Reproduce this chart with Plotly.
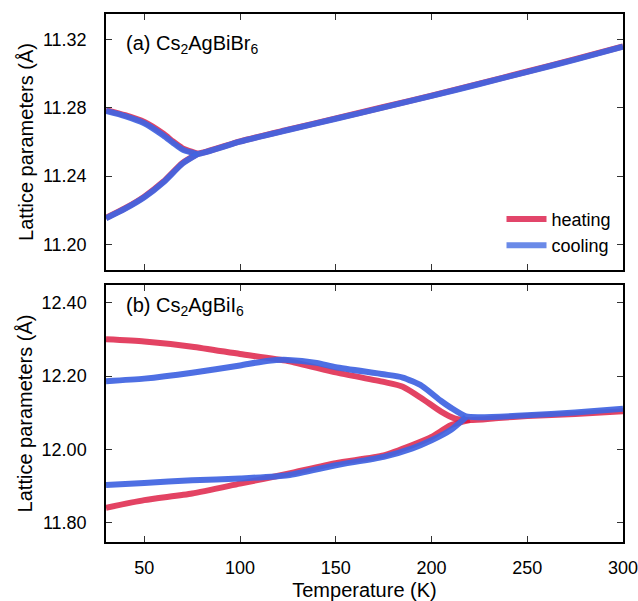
import plotly.graph_objects as go

# ---------------- data ----------------
# (a) Cs2AgBiBr6
Ta_hi = [30, 40, 50, 60, 65, 70, 75, 78, 100, 125, 150, 175, 200, 225, 250, 275, 300]
a_heat_hi = [11.2787, 11.2757, 11.2717, 11.2648, 11.2603, 11.2563, 11.2542, 11.2532, 11.2604, 11.2672, 11.2738, 11.2805, 11.2872, 11.2942, 11.3013, 11.3085, 11.3160]
a_cool_hi = [11.2782, 11.2752, 11.2710, 11.2638, 11.2595, 11.2555, 11.2537, 11.2530, 11.2602, 11.2670, 11.2736, 11.2803, 11.2870, 11.2940, 11.3011, 11.3083, 11.3158]
Ta_lo = [30, 40, 50, 60, 70, 78]
a_heat_lo = [11.2155, 11.2212, 11.2280, 11.2368, 11.2478, 11.2532]
a_cool_lo = [11.2153, 11.2209, 11.2276, 11.2364, 11.2474, 11.2530]

# (b) Cs2AgBiI6
Tb_heat_hi = [30, 50, 75, 100, 125, 150, 175, 185, 195, 205, 212, 220, 235, 250, 275, 300]
b_heat_hi = [12.300, 12.294, 12.280, 12.260, 12.241, 12.210, 12.184, 12.171, 12.139, 12.103, 12.085, 12.080, 12.086, 12.091, 12.097, 12.104]
Tb_heat_lo = [30, 50, 75, 100, 125, 150, 175, 190, 200, 210, 220]
b_heat_lo = [11.841, 11.862, 11.880, 11.907, 11.934, 11.963, 11.984, 12.012, 12.034, 12.066, 12.080]

Tb_cool_hi = [30, 50, 75, 100, 115, 125, 140, 150, 175, 185, 195, 205, 210, 218, 225, 250, 275, 300]
b_cool_hi = [12.186, 12.193, 12.209, 12.229, 12.242, 12.244, 12.236, 12.224, 12.205, 12.196, 12.173, 12.132, 12.114, 12.090, 12.088, 12.093, 12.101, 12.111]
Tb_cool_lo = [30, 50, 75, 100, 125, 150, 175, 190, 200, 210, 218]
b_cool_lo = [11.903, 11.909, 11.916, 11.921, 11.930, 11.957, 11.980, 12.003, 12.025, 12.053, 12.088]

x_ticks = [50, 100, 150, 200, 250, 300]
ya_ticks = [11.20, 11.24, 11.28, 11.32]
yb_ticks = [11.80, 12.00, 12.20, 12.40]

labels = ["heating", "cooling"]
panel_labels = ["(a) Cs<sub>2</sub>AgBiBr<sub>6</sub>", "(b) Cs<sub>2</sub>AgBiI<sub>6</sub>"]

# ---------------- style ----------------
HEAT = "rgba(220,20,60,0.8)"
COOL = "rgba(65,100,225,0.93)"
HEAT_LEG = "#e2456a"
COOL_LEG = "#6a8ae8"
FONT = "Liberation Sans, Arial, Helvetica, sans-serif"
LW = 6


def join(x1, y1, x2, y2):
    return list(x1) + [None] + list(x2), list(y1) + [None] + list(y2)


fig = go.Figure()

series = [
    ("x", "y", Ta_hi, a_heat_hi, Ta_lo, a_heat_lo, HEAT, labels[0]),
    ("x", "y", Ta_hi, a_cool_hi, Ta_lo, a_cool_lo, COOL, labels[1]),
    ("x2", "y2", Tb_heat_hi, b_heat_hi, Tb_heat_lo, b_heat_lo, HEAT, labels[0]),
    ("x2", "y2", Tb_cool_hi, b_cool_hi, Tb_cool_lo, b_cool_lo, COOL, labels[1]),
]
for xa, ya, x1, y1, x2, y2, col, name in series:
    xs, ys = join(x1, y1, x2, y2)
    fig.add_trace(go.Scatter(
        x=xs, y=ys, mode="lines", name=name, legendgroup=name, showlegend=False,
        line=dict(color=col, width=LW, shape="spline", smoothing=0.6),
        connectgaps=False, xaxis=xa, yaxis=ya,
    ))

# legend entries
for name, col in zip(labels, [HEAT_LEG, COOL_LEG]):
    fig.add_trace(go.Scatter(x=[None], y=[None], mode="lines", name=name, legendgroup=name,
                             line=dict(color=col, width=LW), xaxis="x", yaxis="y"))

axis_common = dict(
    showline=True, linecolor="black", linewidth=1.5, mirror="ticks",
    ticks="inside", ticklen=6, tickwidth=1.2, tickcolor="#333",
    showgrid=False, zeroline=False, automargin=False, ticklabeloverflow="allow",
    tickfont=dict(family=FONT, size=18, color="black"),
)
title_font = dict(family=FONT, size=20, color="black")

fig.update_layout(
    width=638, height=601,
    margin=dict(l=106, r=15, t=14, b=59),
    paper_bgcolor="white", plot_bgcolor="white",
    font=dict(family=FONT, color="black"),
    xaxis=dict(domain=[0, 1], anchor="y", range=[30, 300], tickvals=x_ticks,
               showticklabels=False, matches="x2", **axis_common),
    yaxis=dict(domain=[0.5152, 1], anchor="x", range=[11.185, 11.335], tickvals=ya_ticks,
               tickformat=".2f", ticklabelstandoff=14,
               title=dict(text="Lattice parameters (Å)", font=title_font, standoff=4),
               **axis_common),
    xaxis2=dict(domain=[0, 1], anchor="y2", range=[30, 300], tickvals=x_ticks,
                ticklabelstandoff=9,
                title=dict(text="Temperature (K)", font=title_font, standoff=8),
                **axis_common),
    yaxis2=dict(domain=[0, 0.4867], anchor="x2", range=[11.748, 12.448], tickvals=yb_ticks,
                tickformat=".2f", ticklabelstandoff=14,
                title=dict(text="Lattice parameters (Å)", font=title_font, standoff=4),
                **axis_common),
    legend=dict(x=0.765, y=0.527, xanchor="left", yanchor="bottom",
                bgcolor="rgba(0,0,0,0)", font=dict(family=FONT, size=18),
                tracegroupgap=0, itemwidth=40),
    showlegend=True,
)

fig.add_annotation(text=panel_labels[0], xref="x domain", yref="y domain", x=0.034, y=0.88,
                   xanchor="left", yanchor="middle", showarrow=False,
                   font=dict(family=FONT, size=20, color="black"))
fig.add_annotation(text=panel_labels[1], xref="x2 domain", yref="y2 domain", x=0.034, y=0.915,
                   xanchor="left", yanchor="middle", showarrow=False,
                   font=dict(family=FONT, size=20, color="black"))

fig.write_html("out.html")
